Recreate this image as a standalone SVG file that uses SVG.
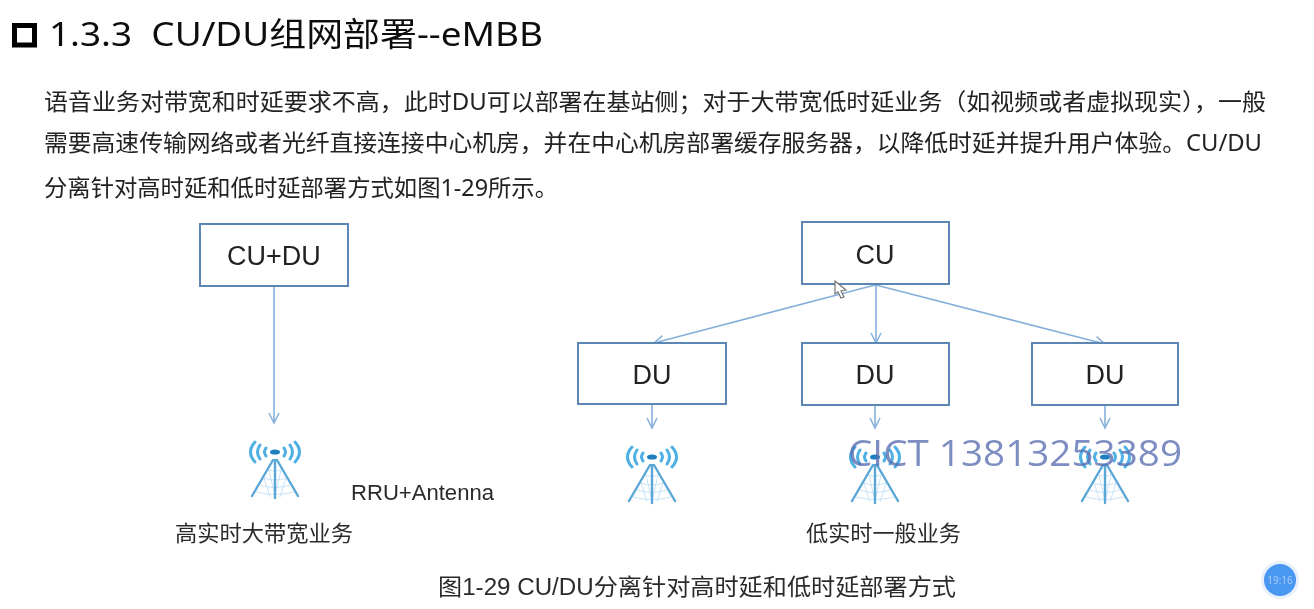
<svg xmlns="http://www.w3.org/2000/svg" xmlns:xlink="http://www.w3.org/1999/xlink" width="1314" height="609" viewBox="0 0 1314 609">
<style>
text{font-family:"Noto Sans","Noto Sans CJK SC",sans-serif;fill:#262626}
.title{font-size:33px;fill:#111}
.body{font-size:23.2px;fill:#222}
.box{fill:#fff;stroke:#5b86b4;stroke-width:2}
.lbl{font-family:"Liberation Sans","Noto Sans CJK SC",sans-serif;font-size:27px;text-anchor:middle;fill:#222}
.small{font-family:"Liberation Sans","Noto Sans CJK SC",sans-serif;font-size:21.5px;fill:#2c2c2c}
.cap{font-family:"Liberation Sans","Noto Sans CJK SC",sans-serif;font-size:23px;fill:#2c2c2c}
.conn{fill:none;stroke:#86b0da;stroke-width:1.6;marker-end:url(#arr)}
.wave{fill:none;stroke:#4fb0e4;stroke-width:3;stroke-linecap:round}
.leg{stroke:#5aa6d6;stroke-width:2.4;stroke-linecap:round;fill:none}
.mesh{stroke:#bcdcf2;stroke-width:.8;fill:none}
.wm{font-family:"Open Sans","Noto Sans",sans-serif;font-size:37px;fill:#5a6db0;fill-opacity:.78}
</style>
<defs>
<marker id="arr" markerUnits="userSpaceOnUse" markerWidth="14" markerHeight="12" refX="11" refY="6" orient="auto">
<path d="M1 1 L11 6 L1 11" fill="none" stroke="#86b0da" stroke-width="1.5"/>
</marker>
<g id="tower">
<path class="wave" d="M-9 -4Q-12 0 -9 4M-15 -7Q-20 0 -15 7M-20 -10Q-29 0 -20 10M9 -4Q12 0 9 4M15 -7Q20 0 15 7M20 -10Q29 0 20 10"/>
<ellipse cx="0" cy="0" rx="5" ry="2.6" fill="#1f7fc0"/>
<path class="mesh" d="M-6 18Q0 21 6 18M-11 26Q0 30 11 26M-15 33Q0 38 15 33M-19 40Q0 45 19 40M-6 18L0 44M6 18L0 44M-11 26L-5 45M11 26L5 45"/>
<path class="leg" d="M-2 8L-23 44M0 8V46M2 8L23 44"/>
</g>
<filter id="soft" x="-5%" y="-5%" width="110%" height="110%"><feGaussianBlur stdDeviation="0.55"/></filter>
</defs>
<rect width="1314" height="609" fill="#fff"/>
<g id="heading" filter="url(#soft)">
<rect x="14.5" y="25.5" width="20" height="19.5" fill="none" stroke="#000" stroke-width="5"/>
<text class="title" x="49" y="46" textLength="494" lengthAdjust="spacingAndGlyphs" xml:space="preserve">1.3.3  CU/DU组网部署--eMBB</text>
</g>
<g id="paragraph" filter="url(#soft)">
<text class="body" x="44" y="110" textLength="1222" lengthAdjust="spacingAndGlyphs">语音业务对带宽和时延要求不高，此时DU可以部署在基站侧；对于大带宽低时延业务（如视频或者虚拟现实），一般</text>
<text class="body" x="44" y="151" textLength="1218" lengthAdjust="spacingAndGlyphs">需要高速传输网络或者光纤直接连接中心机房，并在中心机房部署缓存服务器，以降低时延并提升用户体验。CU/DU</text>
<text class="body" x="44" y="196" textLength="514" lengthAdjust="spacingAndGlyphs">分离针对高时延和低时延部署方式如图1-29所示。</text>
</g>
<g id="connectors" filter="url(#soft)">
<path class="conn" d="M274 287V423"/>
<path class="conn" d="M875 285L654 343"/>
<path class="conn" d="M876 285V343"/>
<path class="conn" d="M876 285L1105 344"/>
<path class="conn" d="M652 405V428"/>
<path class="conn" d="M875 405V428"/>
<path class="conn" d="M1105 405V428"/>
</g>
<g id="node-cu-du" filter="url(#soft)"><rect class="box" x="200" y="224" width="148" height="62"/><text class="lbl" x="274" y="265">CU+DU</text></g>
<g id="node-cu" filter="url(#soft)"><rect class="box" x="802" y="222" width="147" height="62"/><text class="lbl" x="875" y="264">CU</text></g>
<g id="node-du-1" filter="url(#soft)"><rect class="box" x="578" y="343" width="148" height="61"/><text class="lbl" x="652" y="384">DU</text></g>
<g id="node-du-2" filter="url(#soft)"><rect class="box" x="802" y="343" width="147" height="62"/><text class="lbl" x="875" y="384">DU</text></g>
<g id="node-du-3" filter="url(#soft)"><rect class="box" x="1032" y="343" width="146" height="62"/><text class="lbl" x="1105" y="384">DU</text></g>
<g id="antennas" filter="url(#soft)">
<use xlink:href="#tower" href="#tower" x="275" y="452"/>
<use xlink:href="#tower" href="#tower" x="652" y="457"/>
<use xlink:href="#tower" href="#tower" x="875" y="457"/>
<use xlink:href="#tower" href="#tower" x="1105" y="457"/>
</g>
<g id="labels" filter="url(#soft)">
<text class="small" x="351" y="500" textLength="143" lengthAdjust="spacingAndGlyphs">RRU+Antenna</text>
<text class="small" x="175" y="541" textLength="178" lengthAdjust="spacingAndGlyphs">高实时大带宽业务</text>
<text class="small" x="806" y="541" textLength="155" lengthAdjust="spacingAndGlyphs">低实时一般业务</text>
<text class="cap" x="438" y="595" textLength="518" lengthAdjust="spacingAndGlyphs">图1-29 CU/DU分离针对高时延和低时延部署方式</text>
</g>
<path id="cursor" d="M835 281L835 294L838 292L841 298L844 297L841 291L846 290Z" fill="#fff" stroke="#777" stroke-width="1.2"/>
<text id="watermark" class="wm" x="848" y="466" textLength="334" lengthAdjust="spacingAndGlyphs">CICT 13813253389</text>
<g id="timer">
<circle cx="1280" cy="580" r="19" fill="#cfe4fb" fill-opacity=".5"/>
<circle cx="1280" cy="580" r="16" fill="#4a97f2"/>
<text x="1280" y="584" text-anchor="middle" style="font-size:10px;fill:#a9cdf7">19:16</text>
</g>
</svg>
